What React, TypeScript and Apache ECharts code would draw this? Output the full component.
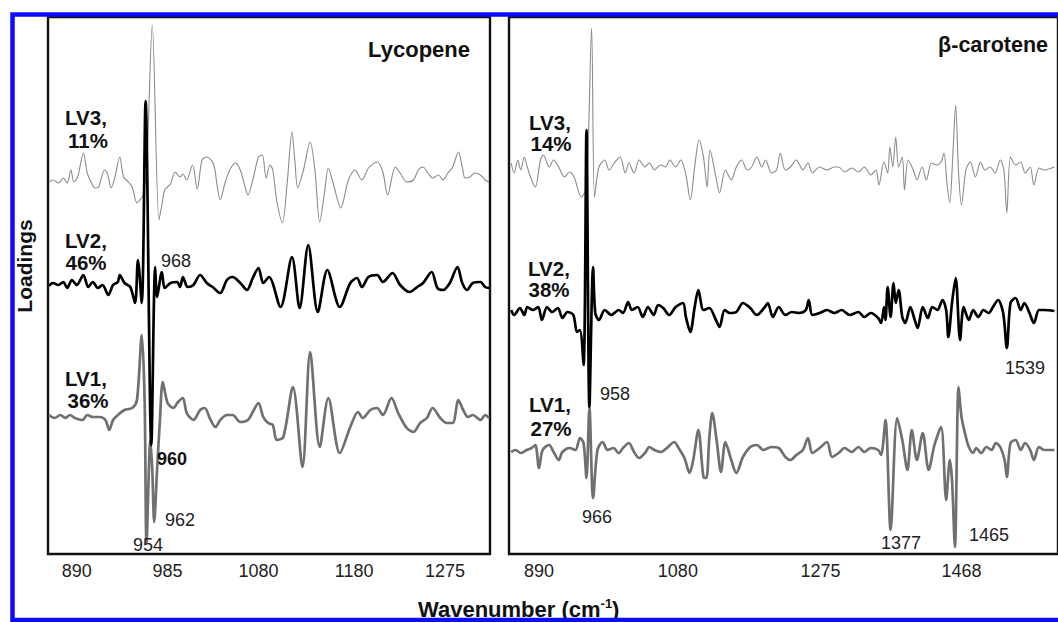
import React, { useEffect, useRef } from "react";
import * as echarts from "echarts";

const FONT = '"Liberation Sans", Arial, Helvetica, sans-serif';

// ---- x-axis tick labels (wavenumber, cm-1) ----
const lycopeneTicks = [890, 985, 1080, 1180, 1275];
const caroteneTicks = [890, 1080, 1275, 1468];

// ---- loadings (relative to each curve's own baseline), [wavenumber, loading] ----
const lycopeneLV3: [number, number][] = [
  [861, 0], [865, 0.2], [871, -0.1], [876, 0.4], [880, -0.1], [884, 1.2], [887, 0], [891, 0.5], [897, 2.9], [901, 0.9],
  [905, 0], [909, -0.6], [913, -0.5], [919, 1.2], [922, 0.9], [926, -0.6], [930, 0.5], [935, 2.5], [939, 0.5], [944, 0],
  [948, -0.5], [953, -2.1], [956, -1.8], [959, -1.4], [963, 1.2], [969, 15.7], [976, -3.8], [979, -2.3], [982, -0.8],
  [988, -0.2], [993, 1.0], [998, 0.5], [1001, 0.8], [1005, 0.2], [1011, 1.7], [1016, -0.7], [1021, 2.2], [1026, 2.5],
  [1033, 1.8], [1037, -0.5], [1040, -1.8], [1045, -0.1], [1050, 1.2], [1056, 1.9], [1061, 1.2], [1066, -0.5], [1069, -1.3],
  [1074, 0.2], [1080, 2.5], [1084, 2.7], [1088, 0.4], [1092, 1.7], [1095, 1.2], [1099, -1.8], [1105, -4.1], [1110, -0.1],
  [1115, 5.0], [1118, 2.2], [1121, -0.6], [1127, 1.2], [1134, 4.0], [1139, 1.2], [1144, -4.0], [1149, -1.1], [1153, 1.4],
  [1158, -0.1], [1166, -2.6], [1174, 0.2], [1181, 1.2], [1188, 0.2], [1195, 1.4], [1204, 2.0], [1210, 1.0], [1215, -1.3],
  [1223, 1.5], [1228, 0.9], [1235, 0], [1242, 0.2], [1247, 1.2], [1252, 1.5], [1257, 0.9], [1262, 0.4], [1268, 0.7],
  [1273, 0.2], [1278, 0.9], [1283, 1.5], [1289, 3.0], [1293, 1.5], [1296, 0.4], [1301, 0.5], [1306, 0.9], [1312, 0.7],
  [1317, 0.2], [1321, 0],
];

const lycopeneLV2: [number, number][] = [
  [861, 0], [865, 0.3], [871, 0.1], [876, 0.4], [880, -0.2], [885, 0.6], [890, 0.1], [897, 1.1], [902, -0.1], [907, 0.4],
  [912, -0.2], [917, 0.1], [923, -0.9], [928, 0.1], [933, 0.4], [935, 1.1], [940, 0.3], [946, -0.1], [951, -1.7], [954, 2.6],
  [958, -1.7], [962, 18.5], [968, -15.9], [972, 1.9], [974, -1.1], [979, 1.4], [982, -0.2], [988, 0.3], [995, 0.4],
  [998, -0.1], [1001, 0.9], [1006, -0.1], [1012, 0.1], [1019, 1.1], [1026, 0.3], [1032, -0.1], [1040, -0.7], [1047, 0.6],
  [1053, 0.9], [1061, 0.3], [1068, -0.4], [1074, 0.8], [1080, 1.8], [1085, 0.3], [1091, 0.9], [1103, -2.1], [1115, 2.9],
  [1123, -2.2], [1132, 4.1], [1142, -2.6], [1152, 1.6], [1165, -2.1], [1176, 0.3], [1183, 0.8], [1188, -0.1], [1195, 0.9],
  [1204, 1.1], [1210, 0.4], [1220, 1.3], [1228, 0.1], [1238, -0.6], [1246, -0.1], [1252, 0.3], [1261, 1.4], [1267, -0.2],
  [1273, -0.4], [1280, 0.3], [1288, 1.9], [1293, 0.3], [1298, -0.4], [1304, 0.3], [1312, 0.4], [1317, -0.1], [1321, -0.2],
];

const lycopeneLV1: [number, number][] = [
  [861, 0], [867, -0.3], [873, 0], [878, -0.3], [883, 0], [888, -0.3], [896, -0.5], [901, 0], [907, -0.2], [914, -0.2],
  [920, -0.5], [924, -1.5], [928, -0.5], [933, 0], [940, 0.5], [948, 0.7], [953, 1.5], [958, 8.0], [961, 1.5], [963, -12.8],
  [967, -2.5], [969, -5.5], [971, -10.7], [974, -5.5], [977, -0.5], [980, 3.3], [985, 1.2], [991, 0.7], [996, 1.3],
  [1001, 1.7], [1005, 0.2], [1012, -0.5], [1019, 0.5], [1024, 0.7], [1029, -0.3], [1035, -1.2], [1040, -0.5], [1047, 0],
  [1053, 0], [1061, -0.7], [1069, -0.5], [1074, 0.3], [1080, 1.2], [1085, -0.2], [1090, -0.8], [1095, -1.0], [1099, -2.5],
  [1106, -2.2], [1116, 2.8], [1126, -5.2], [1134, 6.3], [1144, -3.2], [1153, 1.7], [1165, -3.8], [1176, -1.2], [1184, 0.3],
  [1189, -0.3], [1197, 0.5], [1204, 0.7], [1210, 0], [1219, 1.7], [1226, 0.2], [1235, -1.3], [1242, -1.7], [1249, -0.8],
  [1256, -0.3], [1262, 0.7], [1270, -0.3], [1277, -0.8], [1283, -0.8], [1289, 1.5], [1294, 0.5], [1299, -0.2], [1304, 0],
  [1312, -0.5], [1317, 0], [1321, -0.3],
];

const caroteneLV3: [number, number][] = [
  [852, 0.4], [856, -0.6], [861, 0.7], [865, -0.3], [870, 1.0], [874, 0], [880, -1.3], [885, -2.0], [892, 0.7], [896, 1.2],
  [904, 0], [910, 0.7], [917, 0], [925, -1.0], [932, -0.5], [938, -1.0], [948, -3.0], [955, -2.0], [962, 13.9], [966, -3.0],
  [972, 0], [980, 0.7], [986, -0.3], [993, 0.4], [1001, 1.0], [1008, -0.6], [1013, 0.4], [1020, -0.6], [1027, 0.7],
  [1035, 0], [1041, 0.4], [1048, -0.3], [1056, 0.2], [1063, 0], [1069, 0.7], [1077, 0], [1084, 0.7], [1091, -0.8],
  [1097, -3.3], [1103, 0], [1109, 2.7], [1115, 1.0], [1120, -2.0], [1124, 1.7], [1132, -1.0], [1137, -2.6], [1145, -0.3],
  [1153, -1.3], [1160, 0], [1167, 0.7], [1175, -0.3], [1181, 0], [1188, 1.0], [1195, 0], [1200, 0.7], [1208, -0.6],
  [1215, -0.3], [1220, 1.4], [1227, -0.3], [1234, 0], [1242, 0.7], [1251, -0.3], [1258, 0.4], [1264, -0.6], [1274, 0],
  [1284, -0.3], [1294, 0], [1300, 0], [1308, -0.5], [1318, -0.1], [1327, -0.5], [1335, 0], [1344, -0.8], [1351, -0.3],
  [1355, -1.8], [1362, 0.5], [1367, -0.6], [1370, 2.0], [1374, 0], [1378, 3.0], [1382, 0], [1387, 1.0], [1390, -2.3],
  [1395, 0.7], [1402, -0.3], [1407, -1.3], [1414, 0], [1420, -1.3], [1427, 0.4], [1434, 0.2], [1440, 0.5], [1444, 1.4],
  [1448, -1.6], [1452, -3.6], [1456, 1.0], [1460, 6.2], [1464, -0.6], [1468, -3.8], [1474, -0.3], [1480, 0.5], [1487, -1.0],
  [1494, 0.5], [1500, -0.3], [1507, 0], [1514, -0.6], [1521, 0.7], [1526, -0.3], [1530, -4.6], [1535, 1.0], [1542, 0.2],
  [1549, 0.5], [1555, -0.6], [1562, 0], [1567, -1.8], [1574, -0.1], [1581, -0.3], [1595, 0],
];

const caroteneLV2: [number, number][] = [
  [852, 0.1], [856, -0.4], [864, 0.3], [870, -0.4], [874, 0.4], [882, 0.1], [889, 0.4], [894, -0.9], [901, 0.4], [908, -0.1],
  [916, 0.3], [922, -0.7], [929, -0.1], [937, -0.4], [942, -2.1], [946, -1.9], [951, -5.4], [955, 18.1], [959, -9.6],
  [964, 4.4], [967, -0.2], [972, -0.9], [980, 0.1], [989, -0.4], [999, 0.1], [1005, -0.2], [1012, 0.9], [1017, 0.1],
  [1025, 0.4], [1032, -0.6], [1039, 0.4], [1047, -0.4], [1053, 0.6], [1060, 0.3], [1068, -0.4], [1077, 0.4], [1087, 0.8],
  [1091, -0.6], [1097, -2.1], [1103, 0.4], [1108, 2.1], [1115, 0.1], [1123, 0.3], [1132, -0.9], [1137, -1.6], [1144, 0.1],
  [1151, -0.2], [1160, -0.1], [1169, 0.8], [1179, 0.3], [1188, -0.4], [1199, 0.4], [1203, 0.8], [1210, -0.6], [1218, 0.4],
  [1227, -0.4], [1236, -0.1], [1246, -0.2], [1255, 0.1], [1259, 1.1], [1264, -0.4], [1274, -0.2], [1284, 0.1], [1294, -0.2],
  [1304, 0.1], [1315, -0.4], [1327, -0.1], [1335, -0.6], [1344, -0.2], [1354, -0.7], [1358, -1.2], [1362, 0.4], [1364, -0.9],
  [1367, 2.4], [1371, -0.6], [1375, 2.8], [1378, 0.8], [1382, 2.1], [1387, -0.6], [1391, -1.2], [1398, 0.4], [1404, -0.9],
  [1408, -1.7], [1415, 0.4], [1422, -0.7], [1428, 0.4], [1435, 0.1], [1442, 1.1], [1447, 0.1], [1450, -2.6], [1455, 0.8],
  [1460, 3.3], [1466, -2.9], [1471, 0.4], [1478, -0.9], [1484, 0.1], [1491, -0.6], [1498, 0.1], [1505, -0.2], [1511, 0.4],
  [1518, 1.1], [1525, -0.2], [1530, -3.7], [1535, 0.8], [1542, 1.3], [1549, 0.1], [1554, 0.8], [1561, -0.2], [1567, -1.2],
  [1574, 0.1], [1581, 0.1], [1595, 0],
];

const caroteneLV1: [number, number][] = [
  [852, -0.2], [858, 0], [865, -0.3], [873, 0], [880, 0.2], [885, 0.5], [890, -1.8], [895, 0], [904, 0.5], [910, -0.2],
  [917, -1.0], [922, -0.2], [932, 0.2], [940, 0], [946, 1.2], [951, 0.7], [955, -2.8], [959, 4.2], [964, -4.8], [970, 0],
  [977, 0.8], [984, 0], [992, 0.2], [999, -0.3], [1005, 0.2], [1013, 0.7], [1020, -0.2], [1027, -0.8], [1035, -0.3],
  [1041, 0.3], [1048, 0], [1057, -0.2], [1065, 0.2], [1075, 0.8], [1081, 0.2], [1089, -0.8], [1096, -2.3], [1101, -1.0],
  [1108, 2.0], [1115, -2.7], [1119, -2.8], [1123, 1.2], [1127, 3.7], [1133, 1.0], [1139, -2.2], [1145, 0.8], [1153, -1.0],
  [1160, -2.3], [1169, -0.7], [1179, 0.3], [1188, 0.5], [1197, 0], [1208, 0.3], [1218, 0.2], [1227, -0.7], [1234, -1.0],
  [1242, -0.5], [1251, 0], [1258, 1.2], [1264, -0.3], [1274, 0.2], [1284, 0.8], [1291, -0.7], [1300, -0.3], [1308, 0.2],
  [1318, -0.2], [1327, 0.3], [1335, -0.2], [1344, 0.2], [1354, 0], [1358, -0.5], [1364, 3.0], [1371, -8.0], [1380, 3.2],
  [1387, 1.0], [1394, -2.0], [1400, 2.0], [1407, -1.0], [1415, 1.7], [1423, -2.0], [1431, 0.5], [1440, 2.3], [1447, -5.0],
  [1452, -1.0], [1455, -3.0], [1459, -9.7], [1464, 6.3], [1468, 3.3], [1474, 1.3], [1478, 0.3], [1484, -0.3], [1488, 0.2],
  [1495, -0.3], [1502, 0.3], [1509, 0], [1515, 0.7], [1521, 0.3], [1527, -1.0], [1530, -2.7], [1535, 0.7], [1542, 1.0],
  [1549, 0], [1555, 0.7], [1562, 0], [1567, -1.0], [1574, 0.3], [1581, 0], [1595, 0],
];

// vertical offsets used to stack the three loadings in each panel [LV3, LV2, LV1]
const lycopeneOffsets = [37.2, 26.8, 13.9];
const caroteneOffsets = [38.7, 24.3, 10.4];

const curveNames = ["LV3", "LV2", "LV1"];
const curveColors = ["#8c8c8c", "#000000", "#707070"];
const curveWidths = [1.1, 2.7, 2.7];

const shift = (arr: [number, number][], off: number) =>
  arr.map(([x, v]) => [x, +(v + off).toFixed(2)]);

const txt = (
  text: string,
  x: number,
  y: number,
  size: number,
  weight: string,
  align: string = "center",
  color: string = "#111"
) => ({
  type: "text",
  x,
  y,
  z: 100,
  style: {
    text,
    fill: color,
    fontSize: size,
    fontWeight: weight,
    fontFamily: FONT,
    font: `${weight} ${size}px ${FONT}`,
    textAlign: align,
    align,
    textVerticalAlign: "middle",
    verticalAlign: "middle",
  },
});

export default function App() {
  const ref = useRef<HTMLDivElement>(null);

  useEffect(() => {
    if (!ref.current) return;
    const chart = echarts.init(ref.current, null, { renderer: "svg" });

    const lyco = [lycopeneLV3, lycopeneLV2, lycopeneLV1];
    const caro = [caroteneLV3, caroteneLV2, caroteneLV1];

    const series: any[] = [];
    [0, 1].forEach((panel) => {
      const sets = panel === 0 ? lyco : caro;
      const offs = panel === 0 ? lycopeneOffsets : caroteneOffsets;
      sets.forEach((d, i) => {
        series.push({
          type: "line",
          name: `${panel === 0 ? "Lycopene" : "β-carotene"} ${curveNames[i]}`,
          xAxisIndex: panel,
          yAxisIndex: panel,
          data: shift(d, offs[i]),
          showSymbol: false,
          smooth: 0.3,
          lineStyle: { color: curveColors[i], width: curveWidths[i] },
          z: i === 1 ? 4 : i === 0 ? 3 : 2,
        });
      });
    });

    const axisLabel = (values: number[]) => ({
      customValues: values,
      formatter: (v: number) => String(v),
      color: "#222",
      fontSize: 18,
      fontFamily: FONT,
      margin: 8,
    });

    const option: any = {
      animation: false,
      backgroundColor: "#ffffff",
      title: {
        text: "{a|Wavenumber (cm}{s|-1}{a|)}",
        left: 418,
        top: 597,
        padding: 0,
        textStyle: {
          rich: {
            a: { fontSize: 22, fontWeight: "bold", fontFamily: FONT, color: "#111", lineHeight: 24 },
            s: { fontSize: 13, fontWeight: "bold", fontFamily: FONT, color: "#111", verticalAlign: "top", lineHeight: 24 },
          },
        },
      },
      grid: [
        { left: 48, top: 17, width: 442, height: 537, show: true, borderColor: "#111", borderWidth: 2.4, backgroundColor: "transparent" },
        { left: 509, top: 17, width: 562, height: 537, show: true, borderColor: "#111", borderWidth: 2.4, backgroundColor: "transparent" },
      ],
      xAxis: [
        {
          type: "value", gridIndex: 0, min: 860, max: 1322,
          axisLine: { show: false }, axisTick: { show: false }, splitLine: { show: false },
          axisLabel: axisLabel(lycopeneTicks),
        },
        {
          type: "value", gridIndex: 1, min: 849, max: 1600,
          axisLine: { show: false }, axisTick: { show: false }, splitLine: { show: false },
          axisLabel: axisLabel(caroteneTicks),
        },
      ],
      yAxis: [
        { type: "value", gridIndex: 0, min: 0, max: 53.7, show: false },
        { type: "value", gridIndex: 1, min: 0, max: 53.7, show: false },
      ],
      series,
      graphic: [
        {
          type: "rect",
          z: 200,
          shape: { x: 12.5, y: 14.5, width: 1100, height: 605.5 },
          style: { fill: "none", stroke: "#0c0cff", lineWidth: 4.5 },
        },
        {
          type: "text",
          x: 24,
          y: 266,
          rotation: Math.PI / 2,
          z: 100,
          style: {
            text: "Loadings",
            fill: "#111",
            fontSize: 21,
            fontWeight: "bold",
            fontFamily: FONT,
            font: `bold 21px ${FONT}`,
            textAlign: "center",
            align: "center",
            textVerticalAlign: "middle",
            verticalAlign: "middle",
          },
        },
        txt("Lycopene", 470, 49, 22, "bold", "right"),
        txt("β-carotene", 1048, 45, 21.5, "bold", "right"),
        txt("LV3,", 86, 117, 20.5, "bold"),
        txt("11%", 88, 140, 20.5, "bold"),
        txt("LV2,", 86, 240, 20.5, "bold"),
        txt("46%", 86, 262, 20.5, "bold"),
        txt("LV1,", 86, 378, 20.5, "bold"),
        txt("36%", 88, 400, 20.5, "bold"),
        txt("LV3,", 550, 122, 20.5, "bold"),
        txt("14%", 551, 143, 20.5, "bold"),
        txt("LV2,", 549, 268, 20.5, "bold"),
        txt("38%", 549, 289, 20.5, "bold"),
        txt("LV1,", 550, 404, 20.5, "bold"),
        txt("27%", 551, 428, 20.5, "bold"),
        txt("968", 176, 261, 18, "normal", "center", "#222"),
        txt("960", 172, 459, 18, "bold", "center", "#111"),
        txt("962", 180, 520, 18, "normal", "center", "#222"),
        txt("954", 148, 545, 18, "normal", "center", "#222"),
        txt("958", 615, 394, 18, "normal", "center", "#222"),
        txt("1539", 1025, 368, 18, "normal", "center", "#222"),
        txt("966", 597, 517, 18, "normal", "center", "#222"),
        txt("1377", 901, 543, 18, "normal", "center", "#222"),
        txt("1465", 989, 535, 18, "normal", "center", "#222"),
      ],
    };

    chart.setOption(option);
    return () => chart.dispose();
  }, []);

  return (
    <div
      ref={ref}
      style={{ position: "fixed", left: 0, top: 0, width: 1058, height: 622, background: "#fff" }}
    />
  );
}
